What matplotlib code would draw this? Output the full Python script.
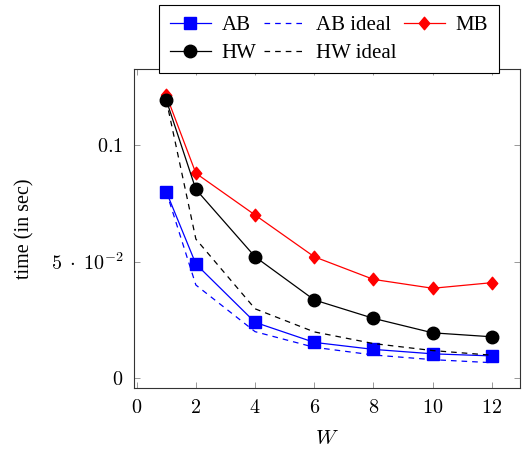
import matplotlib
matplotlib.use("Agg")
import matplotlib.pyplot as plt
from matplotlib.ticker import FixedLocator, FixedFormatter

plt.rcParams['font.family'] = ['Liberation Serif', 'DejaVu Serif']
plt.rcParams['mathtext.fontset'] = 'cm'

W = [1, 2, 4, 6, 8, 10, 12]
ab = [0.0800, 0.0490, 0.0240, 0.0154, 0.0124, 0.0105, 0.0096]
ab_ideal = [0.0800, 0.0400, 0.0200, 0.0133, 0.0100, 0.0080, 0.0067]
mb = [0.1214, 0.0879, 0.0700, 0.0521, 0.0424, 0.0386, 0.0410]
hw = [0.1193, 0.0810, 0.0521, 0.0336, 0.0257, 0.0195, 0.0178]
hw_ideal = [0.1193, 0.0597, 0.0298, 0.0199, 0.0149, 0.0119, 0.0099]

xticks = [0, 2, 4, 6, 8, 10, 12]
yticks = [0, 0.05, 0.1]
yticklabels = [r'$0$', r'$5\;\cdot\;10^{-2}$', r'$0.1$']

diamond = [(-0.42, 0), (0, 0.5), (0.42, 0), (0, -0.5), (-0.42, 0)]
dash = (0, (4.5, 4))

fig = plt.figure(figsize=(5.22, 4.5), dpi=100)
ax = fig.add_axes([0.2567, 0.137, 0.7395, 0.7097])

h_ab, = ax.plot(W, ab, color='blue', lw=0.9, marker='s', ms=8.5, label='AB')
h_abi, = ax.plot(W, ab_ideal, color='blue', lw=0.9, ls=dash, label='AB ideal')
h_mb, = ax.plot(W, mb, color='red', lw=0.9, marker=diamond, ms=9, label='MB')
h_hw, = ax.plot(W, hw, color='black', lw=0.9, marker='o', ms=9, label='HW')
h_hwi, = ax.plot(W, hw_ideal, color='black', lw=0.9, ls=dash, label='HW ideal')

ax.set_xlim(-0.09, 12.95)
ax.set_ylim(-0.0043, 0.1326)
ax.xaxis.set_major_locator(FixedLocator(xticks))
ax.xaxis.set_major_formatter(FixedFormatter([rf'${t}$' for t in xticks]))
ax.yaxis.set_major_locator(FixedLocator(yticks))
ax.yaxis.set_major_formatter(FixedFormatter(yticklabels))
ax.tick_params(direction='in', top=True, right=True, length=4, width=0.6,
               color='#888888', labelsize=14.5, labelcolor='black', pad=7.5)
for s in ax.spines.values():
    s.set_linewidth(0.8)
    s.set_color('#333333')

ax.set_xlabel(r'$W$', fontsize=15, labelpad=9)
ax.set_ylabel('time (in sec)', fontsize=14.5, labelpad=12)

leg = fig.legend([h_ab, h_hw, h_abi, h_hwi, h_mb],
                 ['AB', 'HW', 'AB ideal', 'HW ideal', 'MB'],
                 ncols=3, loc='upper center', bbox_to_anchor=(0.630, 0.989),
                 borderaxespad=0,
                 fontsize=15, frameon=True, fancybox=False, framealpha=1,
                 edgecolor='black', handlelength=2.0, columnspacing=0.35,
                 handletextpad=0.5, borderpad=0.5, labelspacing=0.4)
leg.get_frame().set_linewidth(0.8)

fig.savefig('out.png', dpi=100)
